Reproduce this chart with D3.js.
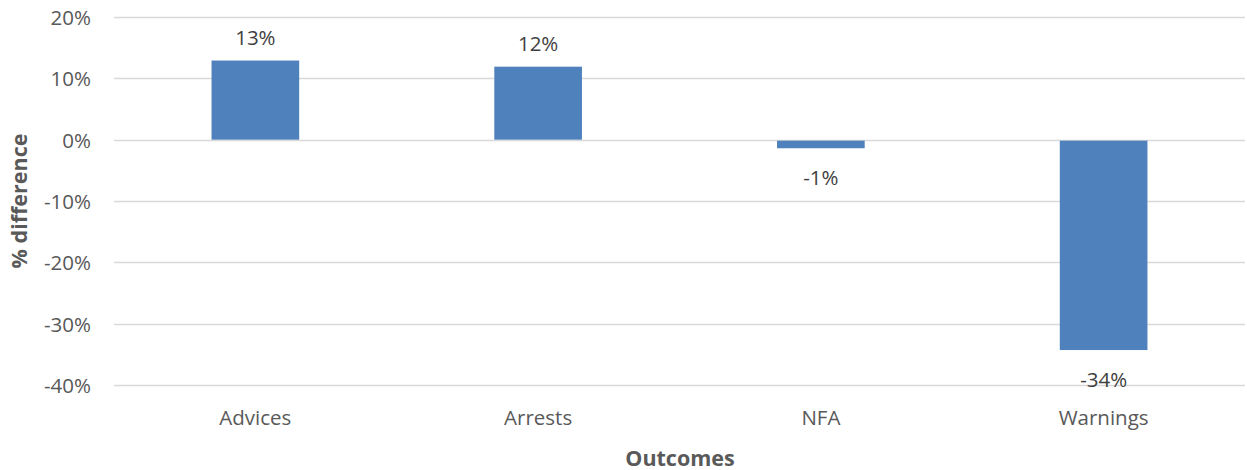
<!DOCTYPE html>
<html>
<head>
<meta charset="utf-8">
<script src="https://cdn.jsdelivr.net/npm/d3@7"></script>
<style>
  html, body { margin: 0; padding: 0; background: #fff; }
  svg { display: block; }
  text { font-family: "Open Sans", "Liberation Sans", sans-serif; fill: #595959; }
</style>
</head>
<body>
<svg id="chart" width="1247" height="470"></svg>
<script>
// Outcome categories and their % difference
const categories = ["Advices", "Arrests", "NFA", "Warnings"];
const values = [0.129, 0.119, -0.014, -0.343];
const yTicks = [0.2, 0.1, 0, -0.1, -0.2, -0.3, -0.4];

const svg = d3.select("#chart");
const plot = { left: 114, right: 1245, top: 17, bottom: 385 };

const x = d3.scaleBand().domain(categories).range([plot.left, plot.right]).paddingInner(0).paddingOuter(0);
const y = d3.scaleLinear().domain([0.2, -0.4]).range([plot.top, plot.bottom]);
// percentage format with a plain hyphen for negatives
const pct = d3.formatLocale({ decimal: ".", thousands: ",", grouping: [3], currency: ["", ""], minus: "-" }).format(".0%");
const barW = x.step() * 0.31;
const labelSize = "20.5px";

// Gridlines
svg.append("g").selectAll("line").data(yTicks).join("line")
  .attr("x1", plot.left).attr("x2", plot.right)
  .attr("y1", d => Math.round(y(d)) + 0.5).attr("y2", d => Math.round(y(d)) + 0.5)
  .attr("stroke", "#d9d9d9").attr("stroke-width", 1.5);

// Y tick labels
svg.append("g").selectAll("text").data(yTicks).join("text")
  .attr("x", 91).attr("y", d => y(d))
  .attr("text-anchor", "end").attr("dominant-baseline", "central")
  .style("font-size", labelSize)
  .text(d => pct(d));

// Bars
svg.append("g").selectAll("rect").data(values).join("rect")
  .attr("x", (d, i) => x(categories[i]) + (x.bandwidth() - barW) / 2)
  .attr("width", barW)
  .attr("y", d => y(Math.max(0, d)) + (d < 0 ? 1 : 0))
  .attr("height", d => Math.abs(y(d) - y(0)) - (d < 0 ? 1 : 0))
  .attr("fill", "#4f81bd");

// Value labels
svg.append("g").selectAll("text").data(values).join("text")
  .attr("x", (d, i) => x(categories[i]) + x.bandwidth() / 2)
  .attr("y", d => d >= 0 ? y(d) - 24 : y(d) + 29)
  .attr("text-anchor", "middle").attr("dominant-baseline", "central")
  .style("font-size", labelSize)
  .style("fill", "#404040")
  .text(d => pct(d));

// Category labels
svg.append("g").selectAll("text").data(categories).join("text")
  .attr("x", d => x(d) + x.bandwidth() / 2)
  .attr("y", 417)
  .attr("text-anchor", "middle").attr("dominant-baseline", "central")
  .style("font-size", labelSize)
  .text(d => d);

// Axis titles
svg.append("text")
  .attr("x", 680).attr("y", 457)
  .attr("text-anchor", "middle").attr("dominant-baseline", "central")
  .style("font-size", "21.5px").style("font-weight", "bold")
  .text("Outcomes");

svg.append("text")
  .attr("transform", "translate(18,201) rotate(-90)")
  .attr("text-anchor", "middle").attr("dominant-baseline", "central")
  .style("font-size", "21.5px").style("font-weight", "bold")
  .text("% difference");
</script>
</body>
</html>
